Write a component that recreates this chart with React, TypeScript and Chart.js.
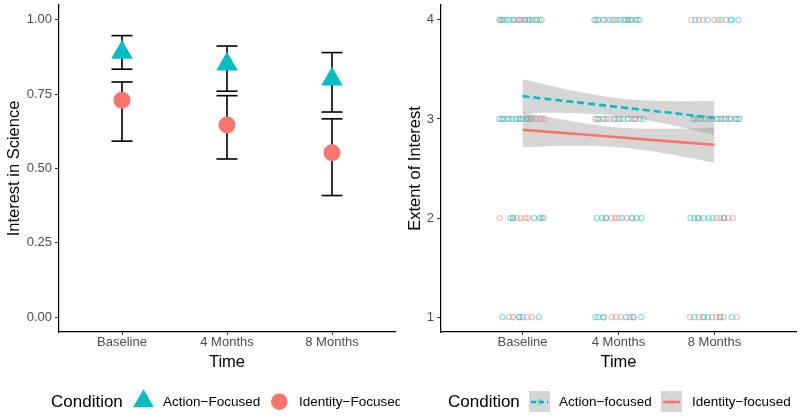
import React, { useEffect, useRef } from 'react';
import { Chart, registerables } from 'chart.js';
Chart.register(...registerables);

// ---------- shared ----------
const timeLabels = ['Baseline', '4 Months', '8 Months'];
const timeX = [1, 2, 3];
const actionColor = '#00BFC4';
const identityColor = '#F8766D';
const FONT = '"Liberation Sans", Arial, Helvetica, sans-serif';

// ---------- left panel data ----------
const leftYTicks = [0, 0.25, 0.5, 0.75, 1];
const actionMean = [0.89, 0.851, 0.8];
const actionLow = [0.834, 0.76, 0.69];
const actionHigh = [0.947, 0.912, 0.89];
const identityMean = [0.73, 0.646, 0.553];
const identityLow = [0.592, 0.532, 0.409];
const identityHigh = [0.791, 0.745, 0.667];

// ---------- right panel data ----------
const rightYTicks = [1, 2, 3, 4];
const ribbonX = [1, 1.5, 2, 2.5, 3];
const actionFit = [3.23, 3.175, 3.12, 3.067, 3.01];
const actionUpper = [3.4, 3.29, 3.21, 3.18, 3.18];
const actionLower = [3.06, 3.06, 3.03, 2.95, 2.84];
const identityFit = [2.89, 2.853, 2.815, 2.776, 2.74];
const identityUpper = [3.07, 2.98, 2.915, 2.9, 2.915];
const identityLower = [2.715, 2.73, 2.715, 2.65, 2.56];

// jittered x positions of raw responses, by response level
const actionX4 = [0.76, 0.79, 0.83, 0.86, 0.9, 0.97, 1.03, 1.07, 1.1, 1.15, 1.18, 1.75, 1.79, 1.84, 1.9, 1.96, 2.02, 2.06, 2.1, 2.14, 2.18, 2.22, 2.8, 2.93, 3.07, 3.17, 3.18, 3.25];
const identityX4 = [0.77, 0.8, 0.92, 0.95, 0.99, 1.02, 1.06, 1.13, 1.2, 1.77, 1.86, 1.93, 1.99, 2.08, 2.12, 2.2, 2.76, 2.84, 2.88, 3.0, 3.04, 3.12];
const actionX3 = [0.76, 0.8, 0.84, 0.89, 0.93, 0.96, 1.0, 1.04, 1.08, 1.78, 1.84, 1.95, 2.0, 2.05, 2.1, 2.18, 2.26, 2.78, 2.83, 2.9, 2.97, 3.02, 3.07, 3.12, 3.17, 3.22, 3.26];
const identityX3 = [0.78, 0.86, 0.98, 1.06, 1.1, 1.14, 1.19, 1.22, 1.76, 1.8, 1.87, 1.9, 1.97, 2.02, 2.13, 2.16, 2.22, 2.8, 2.86, 2.94, 3.04, 3.1, 3.15, 3.24];
const actionX2 = [0.875, 0.9, 1.12, 1.18, 1.22, 1.775, 1.83, 1.87, 2.035, 2.14, 2.19, 2.24, 2.75, 2.79, 2.83, 2.885, 2.94, 2.98, 3.095];
const identityX2 = [0.76, 0.9, 0.94, 0.98, 1.03, 1.055, 1.2, 1.87, 1.93, 1.965, 2.0, 2.085, 2.14, 2.83, 3.025, 3.06, 3.1, 3.145, 3.19];
const actionX1 = [0.79, 0.965, 1.0, 1.17, 1.76, 1.79, 1.845, 2.08, 2.155, 2.235, 2.79, 2.885, 2.93, 3.06, 3.18];
const identityX1 = [0.86, 0.9, 0.965, 1.05, 1.095, 1.845, 1.93, 1.975, 2.025, 2.12, 2.155, 2.745, 2.835, 2.885, 2.975, 3.02, 3.06, 3.095, 3.235];

const legendTitle = 'Condition';
const leftLegendLabels = ['Action\u2212Focused', 'Identity\u2212Focused'];
const rightLegendLabels = ['Action\u2212focused', 'Identity\u2212focused'];

const pts = (xs: number[], y: number) => xs.map((x) => ({ x, y }));

const tickFont = { family: FONT, size: 13, lineHeight: 1.2 };
const titleFont = { family: FONT, size: 16.5, lineHeight: 1.2 };

function xScale(min: number, max: number) {
  return {
    type: 'linear',
    min,
    max,
    afterBuildTicks: (axis: any) => {
      axis.ticks = timeX.map((v) => ({ value: v }));
    },
    afterFit: (axis: any) => {
      axis.height = 40;
      axis.paddingLeft = 0;
      axis.paddingRight = 0;
    },
    ticks: {
      callback: (v: any) => timeLabels[Number(v) - 1] ?? '',
      font: tickFont,
      color: '#4D4D4D',
      padding: 0,
      maxRotation: 0,
      autoSkip: false,
    },
    grid: { drawOnChartArea: false, drawTicks: true, tickLength: 3, color: '#333' },
    border: { display: true, color: '#000', width: 1.2 },
    title: { display: true, text: 'Time', font: titleFont, color: '#000', padding: { top: 0, bottom: 0 } },
  };
}

function yScale(min: number, max: number, ticks: number[], width: number, title: string, titlePad: number, fmt: (v: number) => string) {
  return {
    type: 'linear',
    min,
    max,
    afterBuildTicks: (axis: any) => {
      axis.ticks = ticks.map((v) => ({ value: v }));
    },
    afterFit: (axis: any) => {
      axis.width = width;
      axis.paddingTop = 0;
      axis.paddingBottom = 0;
    },
    ticks: { callback: (v: any) => fmt(Number(v)), font: tickFont, color: '#4D4D4D', padding: 3 },
    grid: { drawOnChartArea: false, drawTicks: true, tickLength: 4, color: '#333' },
    border: { display: true, color: '#000', width: 1.2 },
    title: { display: true, text: title, font: titleFont, color: '#000', padding: { top: titlePad, bottom: 0 } },
  };
}

const leftLegendPlugin = {
  id: 'leftLegend',
  afterDraw(chart: any) {
    const ctx = chart.ctx;
    const y = 402;
    ctx.save();
    ctx.textBaseline = 'middle';
    ctx.textAlign = 'left';
    ctx.fillStyle = '#000';
    ctx.font = `17px ${FONT}`;
    ctx.fillText(legendTitle, 51, y);
    // triangle key
    const tx = 143.5, ty = 401.3, r = 12;
    ctx.fillStyle = actionColor;
    ctx.beginPath();
    ctx.moveTo(tx, ty - r);
    ctx.lineTo(tx + r * 0.866, ty + r / 2);
    ctx.lineTo(tx - r * 0.866, ty + r / 2);
    ctx.closePath();
    ctx.fill();
    ctx.fillStyle = '#000';
    ctx.font = `13.5px ${FONT}`;
    ctx.fillText(leftLegendLabels[0], 163, y);
    // circle key
    ctx.fillStyle = identityColor;
    ctx.beginPath();
    ctx.arc(279.3, 401.7, 8.3, 0, Math.PI * 2);
    ctx.fill();
    ctx.fillStyle = '#000';
    ctx.fillText(leftLegendLabels[1], 299, y);
    ctx.restore();
  },
};

const rightLegendPlugin = {
  id: 'rightLegend',
  afterDraw(chart: any) {
    const ctx = chart.ctx;
    const y = 402;
    ctx.save();
    ctx.textBaseline = 'middle';
    ctx.textAlign = 'left';
    ctx.fillStyle = '#000';
    ctx.font = `17px ${FONT}`;
    ctx.fillText(legendTitle, 48, y);
    const keys = [
      { x: 129, color: actionColor, dash: [5, 3], rgba: 'rgba(0,191,196,0.5)' },
      { x: 261, color: identityColor, dash: [], rgba: 'rgba(248,118,109,0.5)' },
    ];
    keys.forEach((k, i) => {
      ctx.fillStyle = '#D6D6D6';
      ctx.fillRect(k.x, 391, 21, 21);
      ctx.strokeStyle = k.color;
      ctx.lineWidth = 2.5;
      ctx.setLineDash(k.dash);
      ctx.beginPath();
      ctx.moveTo(k.x + 2, y);
      ctx.lineTo(k.x + 19, y);
      ctx.stroke();
      ctx.setLineDash([]);
      ctx.strokeStyle = k.rgba;
      ctx.lineWidth = 1;
      ctx.beginPath();
      ctx.arc(k.x + 10.5, y, 2.5, 0, Math.PI * 2);
      ctx.stroke();
      ctx.fillStyle = '#000';
      ctx.font = `13.5px ${FONT}`;
      ctx.fillText(rightLegendLabels[i], i === 0 ? 159 : 292, y);
    });
    ctx.restore();
  },
};

export default function App() {
  const leftRef = useRef<HTMLCanvasElement | null>(null);
  const rightRef = useRef<HTMLCanvasElement | null>(null);

  useEffect(() => {
    Chart.defaults.font.family = FONT;
    const segs = (lo: number[], hi: number[]) =>
      timeX.flatMap((x, i) => [{ x, y: lo[i] }, { x, y: hi[i] }, { x, y: null as any }]);
    const caps = timeX.flatMap((x, i) => [
      { x, y: actionLow[i] },
      { x, y: actionHigh[i] },
      { x, y: identityLow[i] },
      { x, y: identityHigh[i] },
    ]);

    const left = new Chart(leftRef.current!, {
      type: 'line',
      data: {
        datasets: [
          {
            data: timeX.map((x, i) => ({ x, y: actionMean[i] })),
            showLine: false,
            pointStyle: 'triangle',
            pointRadius: 12.5,
            pointBackgroundColor: actionColor,
            pointBorderColor: actionColor,
            pointBorderWidth: 0,
          },
          {
            data: timeX.map((x, i) => ({ x, y: identityMean[i] })),
            showLine: false,
            pointStyle: 'circle',
            pointRadius: 8.5,
            pointBackgroundColor: identityColor,
            pointBorderColor: identityColor,
            pointBorderWidth: 0,
          },
          {
            data: caps,
            showLine: false,
            pointStyle: 'line',
            pointRadius: 10.5,
            pointBorderColor: '#000',
            pointBorderWidth: 1.6,
          },
          {
            data: segs(actionLow, actionHigh),
            borderColor: '#000',
            borderWidth: 1.6,
            pointRadius: 0,
            spanGaps: false,
          },
          {
            data: segs(identityLow, identityHigh),
            borderColor: '#000',
            borderWidth: 1.6,
            pointRadius: 0,
            spanGaps: false,
          },
        ],
      } as any,
      options: {
        responsive: false,
        animation: false,
        devicePixelRatio: 1,
        layout: { autoPadding: false, padding: { top: 5, right: 5, bottom: 47, left: 0 } },
        plugins: { legend: { display: false }, tooltip: { enabled: false } },
        scales: {
          x: xScale(0.4, 3.6),
          y: yScale(-0.05, 1.05, leftYTicks, 59, 'Interest in Science', 4.6, (v) => v.toFixed(2)),
        } as any,
      },
      plugins: [leftLegendPlugin],
    });

    const grey = 'rgba(153,153,153,0.4)';
    const right = new Chart(rightRef.current!, {
      type: 'line',
      data: {
        datasets: [
          {
            data: ribbonX.map((x, i) => ({ x, y: actionFit[i] })),
            borderColor: actionColor,
            borderWidth: 2.6,
            borderDash: [7, 4],
            pointRadius: 0,
          },
          {
            data: ribbonX.map((x, i) => ({ x, y: identityFit[i] })),
            borderColor: identityColor,
            borderWidth: 2.6,
            pointRadius: 0,
          },
          {
            data: ribbonX.map((x, i) => ({ x, y: actionUpper[i] })),
            borderWidth: 0,
            borderColor: 'rgba(0,0,0,0)',
            backgroundColor: grey,
            fill: '+1',
            pointRadius: 0,
            tension: 0.4,
          },
          {
            data: ribbonX.map((x, i) => ({ x, y: actionLower[i] })),
            borderWidth: 0,
            borderColor: 'rgba(0,0,0,0)',
            fill: false,
            pointRadius: 0,
            tension: 0.4,
          },
          {
            data: ribbonX.map((x, i) => ({ x, y: identityUpper[i] })),
            borderWidth: 0,
            borderColor: 'rgba(0,0,0,0)',
            backgroundColor: grey,
            fill: '+1',
            pointRadius: 0,
            tension: 0.4,
          },
          {
            data: ribbonX.map((x, i) => ({ x, y: identityLower[i] })),
            borderWidth: 0,
            borderColor: 'rgba(0,0,0,0)',
            fill: false,
            pointRadius: 0,
            tension: 0.4,
          },
          {
            data: [...pts(actionX4, 4), ...pts(actionX3, 3), ...pts(actionX2, 2), ...pts(actionX1, 1)],
            showLine: false,
            pointRadius: 2.6,
            pointBorderWidth: 1.1,
            pointBorderColor: 'rgba(0,191,196,0.5)',
            pointBackgroundColor: 'rgba(0,0,0,0)',
          },
          {
            data: [...pts(identityX4, 4), ...pts(identityX3, 3), ...pts(identityX2, 2), ...pts(identityX1, 1)],
            showLine: false,
            pointRadius: 2.6,
            pointBorderWidth: 1.1,
            pointBorderColor: 'rgba(248,118,109,0.5)',
            pointBackgroundColor: 'rgba(0,0,0,0)',
          },
        ],
      } as any,
      options: {
        responsive: false,
        animation: false,
        devicePixelRatio: 1,
        layout: { autoPadding: false, padding: { top: 5, right: 4, bottom: 47, left: 0 } },
        plugins: { legend: { display: false }, tooltip: { enabled: false } },
        scales: {
          x: xScale(0.15, 3.85),
          y: yScale(0.85, 4.15, rightYTicks, 41, 'Extent of Interest', 5.1, (v) => String(v)),
        } as any,
      },
      plugins: [rightLegendPlugin],
    });

    return () => {
      left.destroy();
      right.destroy();
    };
  }, []);

  return (
    <div style={{ position: 'fixed', left: 0, top: 0, width: 800, height: 419, background: '#fff' }}>
      <canvas ref={leftRef} width={400} height={419} style={{ position: 'absolute', left: 0, top: 0 }} />
      <canvas ref={rightRef} width={400} height={419} style={{ position: 'absolute', left: 400, top: 0 }} />
    </div>
  );
}
